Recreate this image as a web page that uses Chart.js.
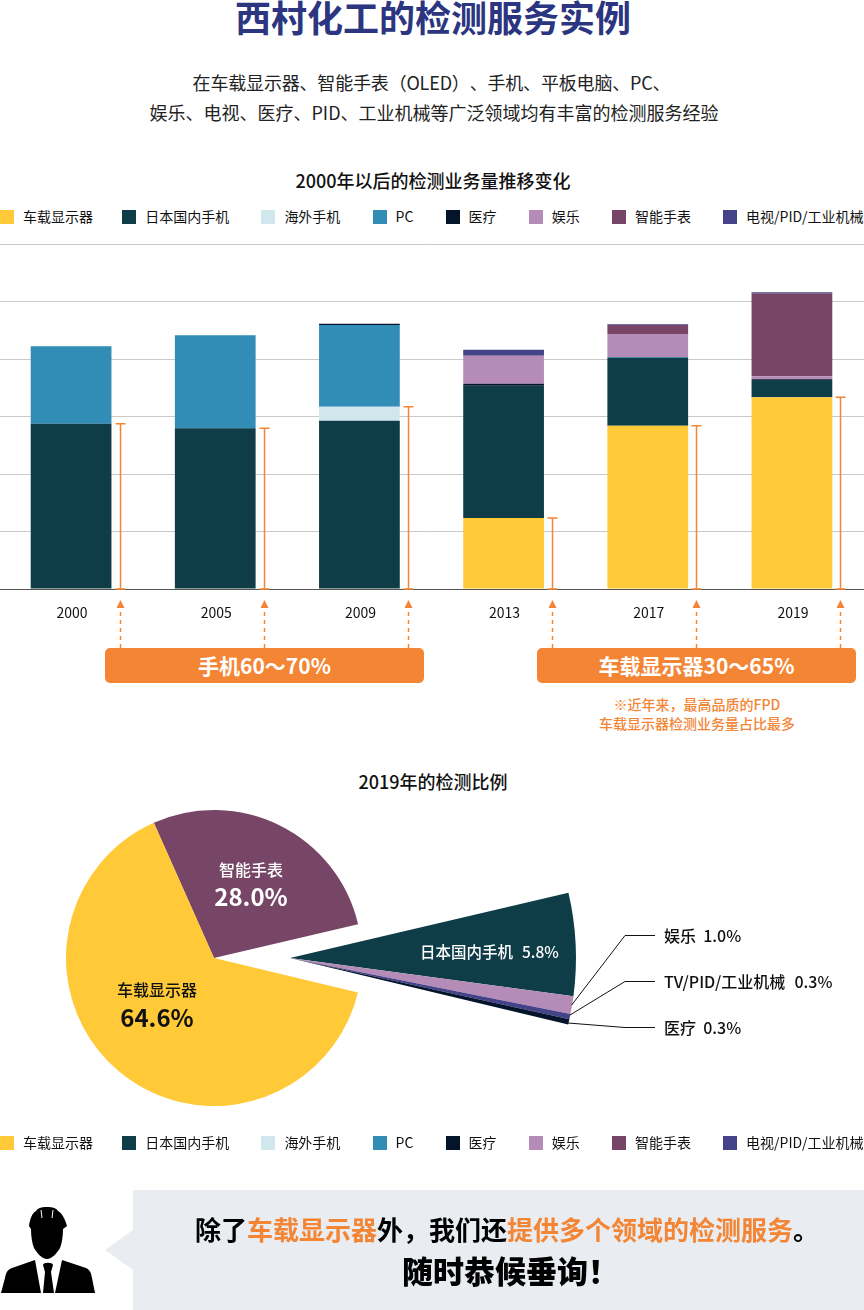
<!DOCTYPE html>
<html lang="zh-CN">
<head>
    <meta charset="UTF-8">
    <title>西村化工的检测服务实例</title>
    <script src="https://cdn.jsdelivr.net/npm/chart.js"></script>
    <style>
        html, body { margin: 0; padding: 0; background: #fff; }
        body { position: relative; width: 864px; height: 1310px; overflow: hidden; text-spacing-trim: space-all;
               font-family: "Noto Sans CJK SC", "Noto Sans", sans-serif; color: #111; }
        canvas { position: absolute; }
        .t { position: absolute; white-space: nowrap; line-height: 1; }
        .c { transform: translateX(-50%); }
        .legend { position: absolute; left: 0; display: flex; gap: 32.2px; font-size: 14px; line-height: 14px; white-space: nowrap; }
        .legend div { display: flex; align-items: center; }
        .legend div:first-child { margin-right: -3px; }
        .legend i { display: block; width: 14px; height: 14px; margin-right: 9px; }
        .legend span { position: relative; top: -1px; }
        .box { position: absolute; top: 648px; width: 319px; height: 35px; line-height: 35px; background: #f38535;
               border-radius: 5px; color: #fff; text-align: center; font-size: 21px; font-weight: 700; }
        .panel { position: absolute; left: 133px; top: 1190px; width: 731px; height: 120px; background: #e9ecf0; }
        .org { color: #f38535; }
    </style>
</head>
<body>
    <div class="t c" style="left:433px;top:-2px;font-size:36px;line-height:36px;font-weight:700;color:#2b3580;">西村化工的检测服务实例</div>
    <div class="t c" style="left:431.5px;top:73px;font-size:18px;letter-spacing:-0.18px;color:#222;">在车载显示器、智能手表（OLED）、手机、平板电脑、PC、</div>
    <div class="t c" style="left:434px;top:103px;font-size:18px;color:#222;">娱乐、电视、医疗、PID、工业机械等广泛领域均有丰富的检测服务经验</div>

    <div class="t c" style="left:433px;top:171px;font-size:18px;font-weight:500;">2000年以后的检测业务量推移变化</div>
    <div class="legend" id="legendTop" style="top:210px;"></div>
    <canvas id="barChart" width="865" height="417" style="left:-1px;top:232px;"></canvas>

    <div class="box" style="left:105px;">手机60～70%</div>
    <div class="box" style="left:537px;">车载显示器30～65%</div>
    <div class="t c org" style="left:697px;top:697px;font-size:14px;font-weight:500;">※近年来，最高品质的FPD</div>
    <div class="t c org" style="left:697px;top:716px;font-size:14px;font-weight:500;">车载显示器检测业务量占比最多</div>

    <div class="t c" style="left:433px;top:772px;font-size:18px;font-weight:500;">2019年的检测比例</div>
    <!-- the small slices are blown out from a second, bigger pie -->
    <canvas id="pieSmall" width="580" height="580" style="left:0;top:668px;"></canvas>
    <canvas id="pieMain" width="300" height="300" style="left:64px;top:808px;"></canvas>

    <svg width="864" height="1310" style="position:absolute;left:0;top:0;pointer-events:none;">
        <g fill="none" stroke="#111" stroke-width="1">
            <polyline points="571.7,1005 625,935.5 655,935.5"/>
            <polyline points="570,1015 625,981.5 655,981.5"/>
            <polyline points="568,1023 625,1027.5 655,1027.5"/>
        </g>
        <!-- engineer icon -->
        <path d="M47 1207C41 1207 38 1208 36 1211C32 1213 30 1219 29 1226L31 1229C31 1236 32 1243 34 1248C37 1253 42 1259 47 1259C52 1259 57 1253 60 1248C62 1243 63 1236 63 1229L67 1226C65 1219 62 1213 58 1211C56 1208 53 1207 47 1207Z"/>
        <path d="M41 1210L42 1218M53 1210L52 1218" stroke="#fff" stroke-width="1"/>
        <path d="M35 1260L12 1268C7 1270 6 1273 5 1278L1 1293L41 1293Z"/>
        <path d="M62 1260L86 1268C90 1270 91 1273 92 1278L95 1293L55 1293Z"/>
        <path d="M43 1265C43 1262 53 1262 53 1265L51 1272L54 1293L43 1293L45 1272Z"/>
        <polygon points="133,1230 105,1250 133,1270" fill="#e9ecf0"/>
    </svg>

    <div id="pieLabels"></div>

    <div class="legend" id="legendBottom" style="top:1136px;"></div>

    <div class="panel"></div>
    <div class="t c" style="left:507px;top:1216px;color:#000;font-size:26px;font-weight:700;">除了<span class="org">车载显示器</span>外，我们还<span class="org">提供多个领域的检测服务</span>。</div>
    <div class="t c" style="left:510.5px;top:1254px;color:#000;font-size:31px;font-weight:900;">随时恭候垂询！</div>

    <script>
        // bar chart data
        const years = ['2000', '2005', '2009', '2013', '2017', '2019'];
        const seriesNames = ['车载显示器', '日本国内手机', '海外手机', 'PC', '医疗', '娱乐', '智能手表', '电视/PID/工业机械'];
        const seriesColors = ['#ffc938', '#0f3d47', '#d2e7ed', '#328db6', '#04142a', '#b58cb7', '#774667', '#444288'];

        const carDisplay = [0, 0, 0, 24.7, 56.8, 66.7];
        const phoneJapan = [57.5, 55.9, 58.5, 46.0, 23.6, 6.0];
        const phoneOverseas = [0, 0, 4.9, 0, 0, 0];
        const pc = [26.9, 32.4, 28.4, 0, 0.3, 0];
        const medical = [0, 0, 0.5, 0.7, 0, 0.3];
        const entertainment = [0, 0, 0, 9.7, 8.0, 1.0];
        const smartWatch = [0, 0, 0, 0, 3.1, 28.9];
        const tvPidMachine = [0, 0, 0, 2.1, 0.3, 0.3];
        const allSeries = [carDisplay, phoneJapan, phoneOverseas, pc, medical, entertainment, smartWatch, tvPidMachine];

        // top of the orange bracket next to each bar
        const bracketTops = [57.5, 55.9, 63.4, 24.7, 56.8, 66.7];

        // pie data, from the printed percentages
        const pieNames = ['车载显示器', '智能手表', '日本国内手机', '娱乐', 'TV/PID/工业机械', '医疗'];
        const pieValues = [64.6, 28.0, 5.8, 1.0, 0.3, 0.3];
        const pieColors = ['#ffc938', '#774667', '#0f3d47', '#b58cb7', '#444288', '#04142a'];

        Chart.defaults.font.family = '"Noto Sans CJK SC", "Noto Sans", sans-serif';
        Chart.defaults.animation = false;

        const drawLegend = (id) => {
            document.getElementById(id).innerHTML = seriesNames
                .map((name, i) => `<div><i style="background:${seriesColors[i]}"></i><span>${name}</span></div>`)
                .join('');
        };
        drawLegend('legendTop');
        drawLegend('legendBottom');

        // brackets beside the bars and dashed arrows down to the orange boxes
        const bracketPlugin = {
            id: 'brackets',
            afterDatasetsDraw(chart) {
                const { ctx, scales: { x, y } } = chart;
                const base = y.getPixelForValue(0);
                ctx.save();
                ctx.strokeStyle = '#f38535';
                ctx.fillStyle = '#f38535';
                ctx.lineWidth = 1.5;
                bracketTops.forEach((top, i) => {
                    const px = Math.floor(x.getPixelForValue(i) + 49) + 0.5;
                    const py = y.getPixelForValue(top);
                    ctx.setLineDash([]);
                    ctx.beginPath();
                    ctx.moveTo(px, py);
                    ctx.lineTo(px, base);
                    ctx.moveTo(px - 5, py);
                    ctx.lineTo(px + 5, py);
                    ctx.moveTo(px - 5, base);
                    ctx.lineTo(px + 5, base);
                    ctx.stroke();

                    ctx.setLineDash([4, 4]);
                    ctx.beginPath();
                    ctx.moveTo(px, base + 59);
                    ctx.lineTo(px, base + 19);
                    ctx.stroke();

                    ctx.beginPath();
                    ctx.moveTo(px, base + 11);
                    ctx.lineTo(px - 4, base + 19);
                    ctx.lineTo(px + 4, base + 19);
                    ctx.closePath();
                    ctx.fill();
                });
                ctx.restore();
            }
        };

        new Chart(document.getElementById('barChart'), {
            type: 'bar',
            data: {
                labels: years,
                datasets: allSeries.map((values, i) => ({
                    label: seriesNames[i],
                    data: values,
                    backgroundColor: seriesColors[i],
                    barPercentage: 0.56,
                    categoryPercentage: 1
                }))
            },
            options: {
                responsive: false,
                layout: { padding: { top: 12 } },
                plugins: { legend: { display: false }, tooltip: { enabled: false } },
                scales: {
                    x: {
                        stacked: true,
                        grid: { display: false },
                        border: { color: '#555' },
                        ticks: { color: '#111', font: { size: 14 }, padding: 7, maxRotation: 0, labelOffset: 1 },
                        afterFit: (scale) => { scale.height = 60; }
                    },
                    y: {
                        stacked: true,
                        min: 0,
                        max: 120,
                        grid: { color: '#c9c9c9', drawTicks: false },
                        border: { display: false },
                        ticks: { display: false, stepSize: 20 },
                        afterFit: (scale) => { scale.width = 0; }
                    }
                }
            },
            plugins: [bracketPlugin]
        });

        const sum = (arr) => arr.reduce((a, b) => a + b, 0);
        const smallValues = pieValues.slice(2);
        const startAngle = -24;

        // main pie: smart watch, gap for the small slices, car display
        new Chart(document.getElementById('pieMain'), {
            type: 'pie',
            data: {
                labels: [pieNames[1], '', pieNames[0]],
                datasets: [{
                    data: [pieValues[1], sum(smallValues), pieValues[0]],
                    backgroundColor: [pieColors[1], 'rgba(0,0,0,0)', pieColors[0]],
                    borderWidth: 0
                }]
            },
            options: {
                responsive: false,
                rotation: startAngle,
                radius: 148,
                plugins: { legend: { display: false }, tooltip: { enabled: false } }
            }
        });

        // bigger pie, only the small slices are visible
        new Chart(document.getElementById('pieSmall'), {
            type: 'pie',
            data: {
                labels: [...pieNames.slice(2), ''],
                datasets: [{
                    data: [...smallValues, pieValues[0] + pieValues[1]],
                    backgroundColor: [...pieColors.slice(2), 'rgba(0,0,0,0)'],
                    borderWidth: 0
                }]
            },
            options: {
                responsive: false,
                rotation: startAngle + pieValues[1] * 3.6,
                radius: 286,
                plugins: { legend: { display: false }, tooltip: { enabled: false } }
            }
        });

        // pie value labels
        const pct = (i) => pieValues[i].toFixed(1) + '%';
        const labelHtml = (i, left, top, extra) =>
            `<div class="t" style="left:${left}px;top:${top}px;font-weight:500;white-space:pre;${extra}">${pieNames[i]}  ${pct(i)}</div>`;
        document.getElementById('pieLabels').innerHTML = `
            <div class="t c" style="left:157px;top:981px;font-size:16px;font-weight:500;">${pieNames[0]}</div>
            <div class="t c" style="left:157px;top:1005px;font-size:24px;font-weight:700;">${pct(0)}</div>
            <div class="t c" style="left:251px;top:861px;font-size:16px;font-weight:500;color:#fff;">${pieNames[1]}</div>
            <div class="t c" style="left:251px;top:884px;font-size:24px;font-weight:700;color:#fff;">${pct(1)}</div>`
            + labelHtml(2, 420, 944, 'font-size:15.5px;word-spacing:1px;color:#fff;')
            + labelHtml(3, 664, 927, 'font-size:16px;')
            + labelHtml(4, 664, 973, 'font-size:16px;word-spacing:1px;')
            + labelHtml(5, 664, 1019, 'font-size:16px;');
    </script>
</body>
</html>
